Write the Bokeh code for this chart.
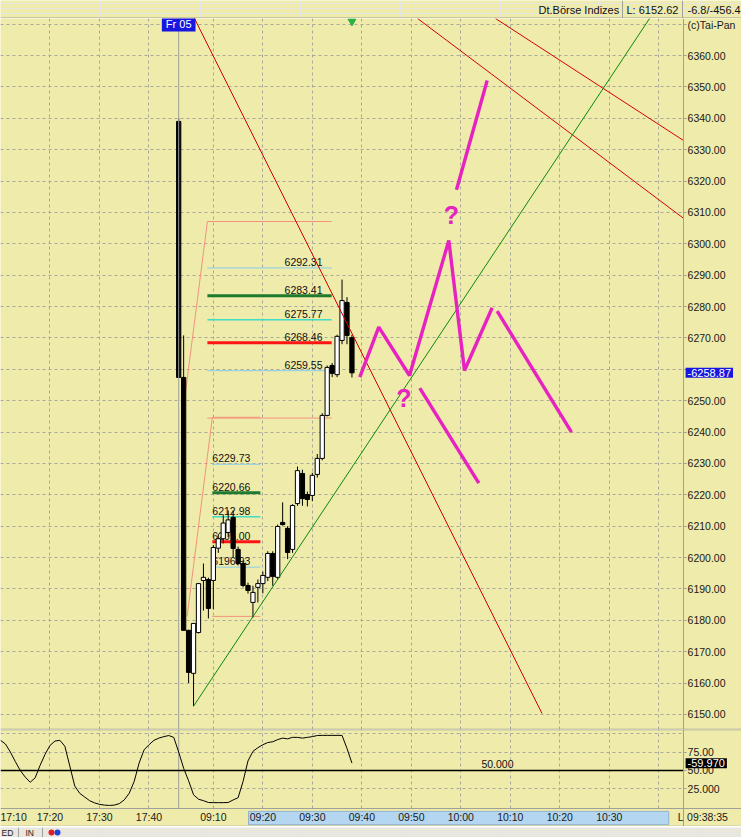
from bokeh.plotting import figure
from bokeh.models import ColumnDataSource, Range1d, FixedTicker, Span, Label
from bokeh.layouts import column
from bokeh.embed import file_html
from bokeh.resources import INLINE
from bokeh.core.properties import value

# ---------------- data ----------------
time_tick_idx = [0, 10, 20, 30, 43, 53, 63, 73, 83, 93, 103, 113, 123]
time_tick_lab = ["17:10", "17:20", "17:30", "17:40", "09:10", "09:20", "09:30",
                 "09:40", "09:50", "10:00", "10:10", "10:20", "10:30"]
grid_x_idx = [10, 20, 30, 43, 53, 63, 73, 83, 93, 103, 113, 123, 133]
day_start = 36
axis_idx = 138.0          # bar position of the price scale
view_end = 149.7          # right edge of the window, in bars

price_ticks = list(range(6150, 6371, 10))

bar_idx = list(range(36, 72))
opens = [6339.0, 6257.4, 6176.8, 6163.1, 6176.1, 6192.7, 6193.0, 6192.7, 6203.0, 6206.0,
         6208.0, 6212.8, 6202.6, 6198.1, 6191.1, 6185.7, 6190.5, 6191.7, 6193.7, 6201.3,
         6193.7, 6211.2, 6209.3, 6202.6, 6217.2, 6226.8, 6220.1, 6219.8, 6226.5, 6231.6,
         6245.3, 6261.2, 6258.3, 6269.2, 6281.3, 6270.1]
highs = [6340.0, 6270.8, 6177.0, 6179.0, 6191.9, 6198.1, 6193.6, 6204.0, 6207.5, 6213.5,
         6215.0, 6215.0, 6203.5, 6199.0, 6192.0, 6191.0, 6193.0, 6195.5, 6202.0, 6202.0,
         6210.5, 6217.6, 6210.0, 6217.0, 6229.0, 6228.0, 6221.0, 6227.0, 6233.0, 6246.0,
         6261.2, 6262.0, 6271.0, 6288.6, 6283.0, 6271.0]
lows = [6257.4, 6176.8, 6160.0, 6152.62, 6175.8, 6183.1, 6180.6, 6183.5, 6201.5, 6204.5,
        6206.5, 6200.0, 6197.5, 6190.5, 6188.5, 6180.9, 6185.7, 6188.6, 6192.5, 6191.0,
        6193.0, 6210.2, 6199.5, 6201.5, 6216.5, 6216.5, 6216.3, 6218.0, 6225.5, 6231.0,
        6245.0, 6257.5, 6257.5, 6268.0, 6268.0, 6257.4]
closes = [6257.4, 6176.8, 6163.4, 6179.0, 6191.7, 6193.7, 6183.8, 6203.2, 6206.0, 6211.0,
          6212.0, 6202.9, 6198.1, 6191.1, 6189.5, 6188.9, 6191.7, 6194.3, 6201.3, 6194.0,
          6209.9, 6210.5, 6201.6, 6216.6, 6227.7, 6218.8, 6218.5, 6226.2, 6231.6, 6245.3,
          6260.6, 6258.7, 6270.5, 6281.9, 6270.8, 6258.87]
last_price = 6258.87

# indicator (0..100 oscillator), one value per bar from 0 to 71
ind_idx = list(range(0, 72))
ind_vals = [91, 86, 75, 62, 50, 41, 34, 40, 57, 72,
            84, 90, 91, 83, 56, 29, 19, 14, 9, 6,
            4, 3, 2.5, 3, 5, 10, 19, 35, 60, 78,
            85, 91, 94, 96, 97.5, 95, 75, 53, 36, 17,
            11, 9, 6.5, 6.3, 6.3, 6.3, 6.5, 10, 13, 35,
            63, 76, 81, 85, 88, 89, 92, 94, 93, 95,
            95, 94, 95, 96, 97.5, 97.7, 97.7, 97.7, 97.7, 97.7,
            80, 59.97]
ind_last = 59.97
ind_ticks = [25, 50, 75]
ind_tick_lab = ["25.000", "50.00", "75.00"]
ind_mid = 50

# Fibonacci retracement sets
fib1_x = [41.8, 66.9]
fib1_levels = [6307.10, 6292.31, 6283.41, 6275.77, 6268.46, 6259.55, 6244.45]
fib1_labels = ["", "6292.31", "6283.41", "6275.77", "6268.46", "6259.55", ""]
fib1_diag = [(36.7, 6244.45), (41.8, 6307.10)]
fib2_x = [42.8, 52.5]
fib2_levels = [6244.70, 6229.73, 6220.66, 6212.98, 6205.00, 6196.93, 6181.25]
fib2_labels = ["", "6229.73", "6220.66", "6212.98", "6205.00", "6196.93", ""]
fib2_diag = [(37.7, 6181.25), (42.8, 6244.70)]
fib_colors = ["#F2927E", "#87CDEE", "#1F7A2E", "#3FDCC6", "#FF1414", "#87CDEE", "#F2927E"]
fib_widths = [1, 1, 3, 1.5, 3, 1, 1]

# trend lines
red_x0 = [39.0, 84.26, 100.0]
red_y0 = [6372.4, 6371.8, 6371.8]
red_x1 = [109.4, 138.0, 138.0]
red_y1 = [6150.3, 6308.1, 6332.9]
green_x = [39.0, 131.5]
green_y = [6152.62, 6372.7]

# magenta scenario sketches
mag_path_x = [72.59, 76.42, 82.63, 90.57, 93.74, 99.33]
mag_path_y = [6257.48, 6273.42, 6258.02, 6301.04, 6259.62, 6279.60]
mag_seg_x0 = [100.34, 92.12, 84.71]
mag_seg_y0 = [6278.51, 6317.20, 6253.98]
mag_seg_x1 = [115.35, 98.32, 96.63]
mag_seg_y1 = [6239.96, 6352.03, 6223.70]
q_x = [91.11, 81.47]
q_y = [6309.33, 6250.92]

# time-scroll band (visible range) in bars
band_x = [50.1, 135.0]

# ---------------- style ----------------
BG = "#EFEBAA"
GRID = "#A9A89C"
AXC = "#A0A09A"
MAG = "#E622C0"
FONT = "Liberation Sans"
FS = "10.5px"
W = 741


def base_fig(h, xr, yr, bg=BG):
    return figure(width=W, height=h, x_range=xr, y_range=yr, output_backend="svg",
                  toolbar_location=None, x_axis_location=None, y_axis_location=None,
                  min_border=0, background_fill_color=bg, border_fill_color=bg,
                  outline_line_color=None)


def style_axis(ax):
    ax.axis_line_color = AXC
    ax.major_tick_line_color = AXC
    ax.minor_tick_line_color = None
    ax.major_label_text_font = FONT
    ax.major_label_text_font_size = FS
    ax.major_label_text_color = "#1A1A1A"


# ---------------- header ----------------
hdr = base_fig(18, Range1d(0, 741), Range1d(0, 18))
hdr.text(x=[538, 626, 687], y=[9, 9, 9], text=["Dt.Börse Indizes", "L: 6152.62", "-6.8/-456.4"],
         text_font=value(FONT), text_font_size="11px", text_baseline="middle",
         text_color="#111111")
hdr.segment(x0=[622, 682], y0=[0, 0], x1=[622, 682], y1=[18, 18], line_color=AXC, line_width=1)
hdr.segment(x0=[0], y0=[0.5], x1=[741], y1=[0.5], line_color=AXC, line_width=1)

# ---------------- main price chart ----------------
p = figure(width=W, height=711, x_range=Range1d(0, view_end), y_range=Range1d(6145.2, 6371.8),
           output_backend="svg", toolbar_location=None, x_axis_location=None,
           y_axis_location="right", background_fill_color=BG, border_fill_color=BG,
           min_border=0, outline_line_color=None)
p.yaxis.fixed_location = axis_idx
p.yaxis.ticker = FixedTicker(ticks=price_ticks)
ov = {t: f"{t:.2f}" for t in price_ticks}
ov[6370] = "(c)Tai-Pan"
ov[6260] = ""             # hidden behind the last-price marker
p.yaxis.major_label_overrides = ov
style_axis(p.yaxis)
p.yaxis.major_tick_out = 3
p.yaxis.major_tick_in = 0
p.yaxis.major_label_standoff = 1
p.ygrid.grid_line_color = GRID
p.ygrid.grid_line_dash = "3 3"
p.xgrid.ticker = FixedTicker(ticks=grid_x_idx)
p.xgrid.grid_line_color = GRID
p.xgrid.grid_line_dash = "3 3"
# price-scale area keeps the plain background
p.quad(left=[axis_idx], right=[view_end], bottom=[p.y_range.start], top=[p.y_range.end],
       fill_color=BG, line_color=None)
p.add_layout(Span(location=day_start, dimension="height", line_color=AXC, line_width=1))
p.segment(x0=[0], y0=[p.y_range.start], x1=[view_end], y1=[p.y_range.start],
          line_color=AXC, line_width=1.5)

# fib sets
for xs, levels, labels, diag, align in [(fib1_x, fib1_levels, fib1_labels, fib1_diag, "right"),
                                        (fib2_x, fib2_levels, fib2_labels, fib2_diag, "left")]:
    p.segment(x0=[xs[0]] * len(levels), y0=levels, x1=[xs[1]] * len(levels), y1=levels,
              line_color=fib_colors, line_width=fib_widths)
    p.line(x=[diag[0][0], diag[1][0]], y=[diag[0][1], diag[1][1]], line_color=fib_colors[0],
           line_width=1)
    lx = xs[1] - 1.85 if align == "right" else xs[0]
    p.text(x=[lx] * len(levels), y=levels, text=labels, text_align=align,
           text_baseline="bottom", y_offset=-2, text_font=value(FONT), text_font_size=FS,
           text_color="#111111")

# candles
src = ColumnDataSource(dict(
    x=bar_idx, h=highs, l=lows,
    top=[max(o, c) for o, c in zip(opens, closes)],
    bottom=[min(o, c) for o, c in zip(opens, closes)],
    fill=["white" if c >= o else "black" for o, c in zip(opens, closes)]))
p.segment(x0="x", y0="h", x1="x", y1="l", source=src, line_color="black", line_width=1)
p.vbar(x="x", width=0.86, top="top", bottom="bottom", source=src, fill_color="fill",
       line_color="black", line_width=1)

# trend lines
p.segment(x0=red_x0, y0=red_y0, x1=red_x1, y1=red_y1, line_color="#D40000", line_width=1)
p.line(x=green_x, y=green_y, line_color="#0A8A0A", line_width=1)

# magenta scenarios
p.line(x=mag_path_x, y=mag_path_y, line_color=MAG, line_width=3.4)
p.segment(x0=mag_seg_x0, y0=mag_seg_y0, x1=mag_seg_x1, y1=mag_seg_y1, line_color=MAG,
          line_width=3.4)
p.text(x=q_x, y=q_y, text=["?", "?"], text_align="center", text_baseline="middle",
       text_font=value(FONT), text_font_size="25px", text_font_style="bold", text_color=MAG)

# top marker + labels
p.scatter(x=[bar_idx[-1]], y=[p.y_range.end - 0.9], marker="inverted_triangle", size=8,
          fill_color="#2CB04A", line_color="#2CB04A")
p.add_layout(Label(x=day_start, y=p.y_range.end - 1.9, text="Fr 05", text_align="center",
                   text_baseline="middle", text_color="white", text_font=FONT,
                   text_font_size="11px", background_fill_color="#1717E0", padding=(4, 1)))
p.add_layout(Label(x=axis_idx, y=last_price, text="-6258.87", x_offset=2,
                   text_baseline="middle", text_color="white", text_font=FONT,
                   text_font_size="11px", background_fill_color="#1717E0", padding=(2, 1)))

# ---------------- indicator + time strip ----------------
ind_top, ind_bot = 105.7, -1.63
strip_bot = -26.1
q = figure(width=W, height=97, x_range=p.x_range, y_range=Range1d(strip_bot, ind_top),
           output_backend="svg", toolbar_location=None, x_axis_location="below",
           y_axis_location="right", background_fill_color=BG, border_fill_color=BG,
           min_border=0, outline_line_color=None)
q.xaxis.fixed_location = ind_bot
q.xaxis.ticker = FixedTicker(ticks=time_tick_idx)
q.xaxis.major_label_overrides = dict(zip(time_tick_idx, time_tick_lab))
style_axis(q.xaxis)
q.xaxis.major_tick_out = 0
q.xaxis.major_tick_in = 0
q.xaxis.major_label_standoff = 3
q.yaxis.fixed_location = axis_idx
q.yaxis.ticker = FixedTicker(ticks=ind_ticks)
q.yaxis.major_label_overrides = dict(zip(ind_ticks, ind_tick_lab))
style_axis(q.yaxis)
q.yaxis.major_tick_out = 3
q.yaxis.major_tick_in = 0
q.yaxis.major_label_standoff = 1
q.ygrid.ticker = FixedTicker(ticks=[25, 75, 100])
q.ygrid.grid_line_color = GRID
q.ygrid.grid_line_dash = "3 3"
q.xgrid.ticker = FixedTicker(ticks=grid_x_idx)
q.xgrid.grid_line_color = GRID
q.xgrid.grid_line_dash = "3 3"
# scale area and time strip keep the plain background
q.quad(left=[axis_idx, 0], right=[view_end, axis_idx], bottom=[strip_bot, strip_bot],
       top=[ind_top, ind_bot], fill_color=BG, line_color=None)
strip_h = ind_bot - strip_bot
q.quad(left=[band_x[0]], right=[band_x[1]], top=[ind_bot - 0.16 * strip_h],
       bottom=[strip_bot + 0.1 * strip_h], fill_color="#B4D6F0", line_color="#8FB3D3",
       line_width=1)
q.segment(x0=[day_start], y0=[ind_bot], x1=[day_start], y1=[ind_top], line_color=AXC,
          line_width=1)
q.segment(x0=[0], y0=[ind_mid], x1=[axis_idx], y1=[ind_mid], line_color="black", line_width=1.6)
q.line(x=ind_idx, y=ind_vals, line_color="black", line_width=1)
q.add_layout(Label(x=100.4, y=59.5, text="50.000", text_align="center", text_baseline="middle",
                   text_font=FONT, text_font_size=FS, text_color="#111111"))
q.add_layout(Label(x=axis_idx, y=ind_last, text="-59.970", x_offset=2,
                   text_baseline="middle", text_color="white", text_font=FONT,
                   text_font_size="11px", background_fill_color="black", padding=(2, 1)))
strip_mid = ind_bot - 0.5 * strip_h
q.add_layout(Label(x=136.8, y=strip_mid, text="L", text_baseline="middle", text_font=FONT,
                   text_font_size=FS, text_color="#1A1A1A"))
q.add_layout(Label(x=138.7, y=strip_mid, text="09:38:35", text_baseline="middle",
                   text_font=FONT, text_font_size=FS, text_color="#1A1A1A"))
q.segment(x0=[0], y0=[ind_top], x1=[view_end], y1=[ind_top], line_color=AXC, line_width=1.5)
q.segment(x0=[0], y0=[strip_bot], x1=[view_end], y1=[strip_bot], line_color=AXC, line_width=1.5)

# ---------------- status bar ----------------
ftr = base_fig(11, Range1d(0, 741), Range1d(0, 11), bg="#ECE9D8")
ftr.text(x=[1, 25], y=[5.5, 5.5], text=["ED", "IN"], text_font=value(FONT),
         text_font_size="8.5px", text_baseline="middle", text_color="#222222")
ftr.segment(x0=[18, 42], y0=[0, 0], x1=[18, 42], y1=[11, 11], line_color="#A0A0A0")
ftr.scatter(x=[51, 57], y=[6, 6], size=6, fill_color=["#E02020", "#2040E0"], line_color=None)

layout = column(hdr, p, q, ftr, spacing=0)
with open("out.html", "w", encoding="utf-8") as f:
    f.write(file_html(layout, INLINE))
